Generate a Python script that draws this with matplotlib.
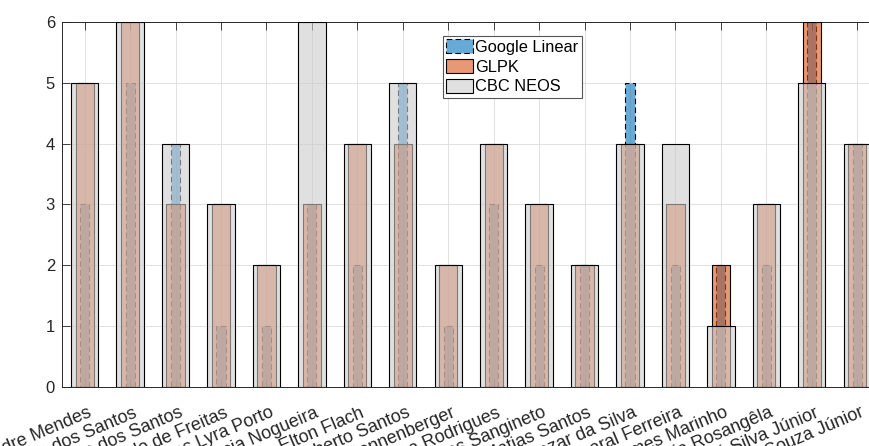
import numpy as np
import matplotlib.pyplot as plt
import matplotlib.transforms as transforms
from matplotlib.patches import Patch

plt.rcParams['font.family'] = ['Liberation Sans', 'DejaVu Sans']

names = ['Alexandre Mendes', 'Marcos dos Santos', 'Pedro dos Santos', 'Paulo de Freitas',
         'Carlos Lyra Porto', 'Márcia Nogueira', 'Elton Flach', 'Roberto Santos',
         'Rafael Sonnenberger', 'Ana Rodrigues', 'Lucas Sangineto', 'Matias Santos',
         'Baltazar da Silva', 'Amaral Ferreira', 'Gomes Marinho', 'Maria Rosangêla',
         'José Silva Júnior', 'Souza Júnior']
google = [3, 5, 4, 1, 1, 3, 2, 5, 1, 3, 2, 2, 5, 2, 2, 2, 6, 4]
glpk = [5, 6, 3, 3, 2, 3, 4, 4, 2, 4, 3, 2, 4, 3, 2, 3, 6, 4]
cbc = [5, 6, 4, 3, 2, 6, 4, 5, 2, 4, 3, 2, 4, 4, 1, 3, 5, 4]

blue = (0.0, 0.447, 0.741, 0.6)
orange = (0.85, 0.325, 0.098, 0.6)
gray = (0.8, 0.8, 0.8, 0.6)
dash = (0, (5, 3))

fig = plt.figure(figsize=(8.69, 4.46), dpi=100)
ax = fig.add_axes([0.0713, 0.1323, 0.9413, 0.8184])

x = np.arange(1, len(names) + 1)
ax.bar(x, google, width=0.2, facecolor=blue, edgecolor='k', linewidth=0.8,
       linestyle=dash, zorder=2)
ax.bar(x, glpk, width=0.4, facecolor=orange, edgecolor='k', linewidth=0.8, zorder=3)
ax.bar(x, cbc, width=0.6, facecolor=gray, edgecolor='k', linewidth=0.8, zorder=4)

ax.set_xlim(0.5, 18.5)
ax.set_ylim(0, 6)
ax.set_xticks(x)
ax.set_xticklabels(names, rotation=23, ha='right', va='top', rotation_mode='anchor')
ax.set_yticks(range(0, 7))
ax.tick_params(direction='in', top=True, right=True, length=5.5, width=0.6,
               color='#262626', labelcolor='#262626')
ax.tick_params(axis='y', pad=5, labelsize=12)
ax.tick_params(axis='x', pad=12.5, labelsize=13)
shift = transforms.ScaledTranslation(2 / 72., 0, fig.dpi_scale_trans)
for lab in ax.get_xticklabels():
    lab.set_transform(lab.get_transform() + shift)
ax.grid(True, color='#dcdcdc', linewidth=0.6, zorder=0)
ax.set_axisbelow(True)
for s in ax.spines.values():
    s.set_color('#262626')
    s.set_linewidth(0.7)

handles = [Patch(facecolor=blue, edgecolor='k', linewidth=0.8, linestyle=dash),
           Patch(facecolor=orange, edgecolor='k', linewidth=0.8),
           Patch(facecolor=gray, edgecolor='k', linewidth=0.8)]
leg = ax.legend(handles, ['Google Linear', 'GLPK', 'CBC NEOS'], loc='upper left',
                bbox_to_anchor=(0.466, 0.962), fontsize=11.8, fancybox=False,
                framealpha=1, edgecolor='#555555', borderpad=0.2, borderaxespad=0,
                handlelength=1.6, handleheight=0.95, handletextpad=0.15,
                labelspacing=0.25)
leg.get_frame().set_linewidth(0.8)
leg.set_zorder(10)

fig.savefig('out.png', dpi=100)
